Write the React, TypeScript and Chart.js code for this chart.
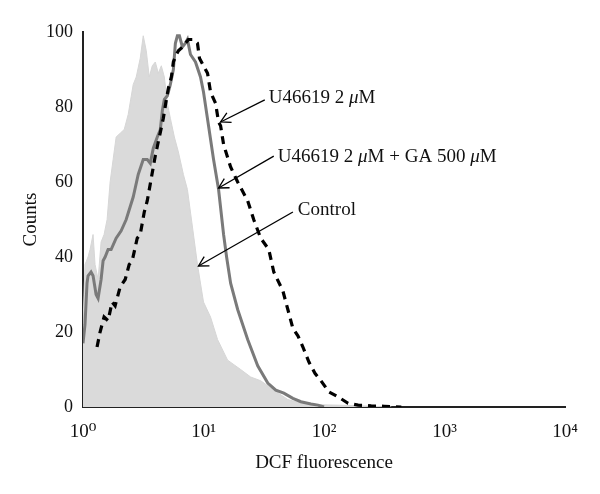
import React, { useEffect, useRef } from "react";
import { Chart, registerables } from "chart.js";

Chart.register(...registerables);

const FONT = "'Liberation Serif', 'DejaVu Serif', serif";

// Axis ticks
const xTickValues = [1, 10, 100, 1000, 10000];
const xTickLabels = ["10⁰", "10¹", "10²", "10³", "10⁴"];
const yTickStep = 20;

// Control (filled light gray histogram)
const controlX = [1.0, 1.039, 1.101, 1.144, 1.212, 1.259, 1.334, 1.413, 1.496, 1.585, 1.679, 1.778, 1.884, 2.034, 2.197, 2.371, 2.61, 2.765, 2.985, 3.162, 3.35, 3.548, 3.758, 3.981, 4.217, 4.467, 4.732, 5.012, 5.309, 5.731, 6.19, 6.813, 7.356, 8.098, 8.913, 10.0, 11.44, 13.08, 15.85, 20.34, 24.64, 29.85, 38.31, 50.12, 64.34, 94.41, 167.9, 361.6];
const controlY = [22, 38, 40, 42, 46, 38, 34, 44, 46, 50, 60, 66, 72, 73, 74, 78, 86, 88, 93, 99, 95, 88, 91, 92, 89, 91, 88, 81, 77, 72, 68, 62, 58, 48, 38, 28, 24, 18, 12.5, 10, 8, 7, 4.5, 2, 1, 0.6, 0.4, 0];

// U46619 2 µM + GA 500 µM (solid gray line)
const gaX = [1.0, 1.039, 1.08, 1.101, 1.166, 1.212, 1.284, 1.334, 1.413, 1.468, 1.526, 1.615, 1.711, 1.884, 2.073, 2.283, 2.61, 2.873, 3.162, 3.415, 3.617, 3.831, 4.136, 4.383, 4.553, 4.732, 5.012, 5.309, 5.623, 5.843, 6.072, 6.31, 6.683, 7.079, 7.356, 7.796, 8.577, 9.441, 10.0, 11.01, 12.12, 13.34, 14.68, 15.55, 16.79, 19.21, 23.26, 28.18, 34.15, 39.81, 46.42, 55.17, 64.34, 77.96, 89.13, 100];
const gaY = [17, 22, 33, 35, 36, 35, 30, 29, 34, 39, 40, 42, 42, 45, 47, 50, 56, 62, 66, 66, 65, 69, 72, 74, 79, 82, 83, 86, 90, 97, 99, 99, 96, 97, 98, 94, 92, 88, 84, 75, 66, 58, 46, 40, 33, 26, 18, 11, 6.4, 4.5, 3.7, 2.3, 1.4, 0.8, 0.5, 0];

// U46619 2 µM (dashed black line)
const uX = [1.308, 1.386, 1.496, 1.615, 1.744, 1.848, 2.034, 2.239, 2.417, 2.561, 2.818, 2.985, 3.224, 3.415, 3.687, 3.981, 4.299, 4.642, 4.917, 5.109, 5.412, 5.623, 5.957, 6.19, 6.683, 7.079, 7.499, 8.254, 8.913, 9.259, 10.0, 10.8, 11.44, 12.59, 13.34, 13.86, 14.68, 16.79, 19.21, 23.26, 26.1, 29.85, 34.81, 38.31, 45.53, 50.12, 55.17, 60.73, 66.83, 74.99, 84.14, 94.41, 110.1, 130.8, 158.5, 192.0, 246.5, 316.2, 438.2];
const uY = [16, 20, 24, 23, 28, 27, 32, 34, 38, 39, 45, 46, 52, 55, 61, 67, 72, 77, 82, 85, 88, 92, 94, 95, 96, 97, 98, 98, 97, 93, 91, 89, 84, 81, 76, 75, 70, 64, 60, 55, 50, 45, 42, 36, 31, 26, 21, 19, 16, 12, 9, 7, 4, 2.7, 1, 0.5, 0.3, 0.2, 0];

// Annotations (data coordinates)
const annotationTexts: [string, boolean][][] = [
  [["U46619 2 ", false], ["μ", true], ["M", false]],
  [["U46619 2 ", false], ["μ", true], ["M + GA 500 ", false], ["μ", true], ["M", false]],
  [["Control", false]],
];
const arrowTipX = [13.86, 13.34, 9.08];
const arrowTipY = [76, 58.4, 37.6];
const arrowStartX = [32.24, 38.3, 55.2];
const arrowStartY = [81.9, 66.9, 52];
const labelX = [34.8, 41.4, 60.7];
const labelY = [82.4, 66.7, 52.5];

const pts = (xs: number[], ys: number[]) => xs.map((x, i) => ({ x, y: ys[i] }));

const annotationPlugin = {
  id: "arrowAnnotations",
  afterDatasetsDraw(chart: any) {
    const { ctx, scales } = chart;
    const xs = scales.x;
    const ys = scales.y;
    ctx.save();
    annotationTexts.forEach((parts, i) => {
      const tx = xs.getPixelForValue(arrowTipX[i]);
      const ty = ys.getPixelForValue(arrowTipY[i]);
      const sx = xs.getPixelForValue(arrowStartX[i]);
      const sy = ys.getPixelForValue(arrowStartY[i]);
      ctx.strokeStyle = "#000";
      ctx.lineWidth = 1.3;
      ctx.beginPath();
      ctx.moveTo(sx, sy);
      ctx.lineTo(tx, ty);
      ctx.stroke();
      const ang = Math.atan2(sy - ty, sx - tx);
      const len = 11;
      const spread = 0.5;
      ctx.beginPath();
      ctx.moveTo(tx + len * Math.cos(ang + spread), ty + len * Math.sin(ang + spread));
      ctx.lineTo(tx, ty);
      ctx.lineTo(tx + len * Math.cos(ang - spread), ty + len * Math.sin(ang - spread));
      ctx.stroke();
      let cx = xs.getPixelForValue(labelX[i]);
      const cy = ys.getPixelForValue(labelY[i]);
      ctx.textBaseline = "middle";
      ctx.textAlign = "left";
      ctx.fillStyle = "#111";
      parts.forEach(([t, it]) => {
        ctx.font = `${it ? "italic " : ""}19px ${FONT}`;
        ctx.fillText(t, cx, cy);
        cx += ctx.measureText(t).width;
      });
    });
    ctx.restore();
  },
};

export default function App() {
  const canvasRef = useRef<HTMLCanvasElement | null>(null);

  useEffect(() => {
    if (!canvasRef.current) return;
    const chart = new Chart(canvasRef.current, {
      type: "line",
      data: {
        datasets: [
          {
            label: "U46619 2 μM",
            data: pts(uX, uY),
            borderColor: "#000",
            borderWidth: 3.2,
            borderDash: [8, 6],
            pointRadius: 0,
            fill: false,
            tension: 0,
          },
          {
            label: "U46619 2 μM + GA 500 μM",
            data: pts(gaX, gaY),
            borderColor: "#7a7a7a",
            borderWidth: 3,
            pointRadius: 0,
            fill: false,
            tension: 0,
          },
          {
            label: "Control",
            data: pts(controlX, controlY),
            borderColor: "#d6d6d6",
            backgroundColor: "#dadada",
            borderWidth: 1,
            pointRadius: 0,
            fill: "origin",
            tension: 0,
          },
        ],
      },
      options: {
        animation: false,
        responsive: false,
        devicePixelRatio: 1,
        layout: { padding: { top: 32, right: 35, left: 0, bottom: 0 } },
        plugins: {
          legend: { display: false },
          tooltip: { enabled: false },
        },
        scales: {
          x: {
            type: "logarithmic",
            min: 1,
            max: 10000,
            grid: { display: false, drawTicks: false },
            border: { display: true, color: "#222", width: 2 },
            afterBuildTicks: (s: any) => {
              s.ticks = xTickValues.map((v) => ({ value: v }));
            },
            afterFit: (s: any) => {
              s.height = 87;
            },
            ticks: {
              autoSkip: false,
              maxRotation: 0,
              padding: 14,
              color: "#111",
              font: { family: FONT, size: 19 },
              callback: (v: any) => {
                const idx = xTickValues.indexOf(Number(v));
                return idx >= 0 ? xTickLabels[idx] : "";
              },
            },
            title: {
              display: true,
              text: "DCF fluorescence",
              color: "#111",
              font: { family: FONT, size: 19 },
              padding: { top: 0, bottom: 20 },
            },
          },
          y: {
            type: "linear",
            min: 0,
            max: 100,
            grid: { display: false, drawTicks: false },
            border: { display: true, color: "#222", width: 2 },
            afterFit: (s: any) => {
              s.width = 83;
            },
            ticks: {
              stepSize: yTickStep,
              padding: 10,
              color: "#111",
              font: { family: FONT, size: 18 },
            },
            title: {
              display: true,
              text: "Counts",
              color: "#111",
              font: { family: FONT, size: 19 },
              padding: { top: 20, bottom: 0 },
            },
          },
        },
      },
      plugins: [annotationPlugin],
    } as any);
    return () => chart.destroy();
  }, []);

  return (
    <div style={{ position: "absolute", left: 0, top: 0, width: 600, height: 494, background: "#fff" }}>
      <canvas ref={canvasRef} width={600} height={494} style={{ display: "block" }} />
    </div>
  );
}
